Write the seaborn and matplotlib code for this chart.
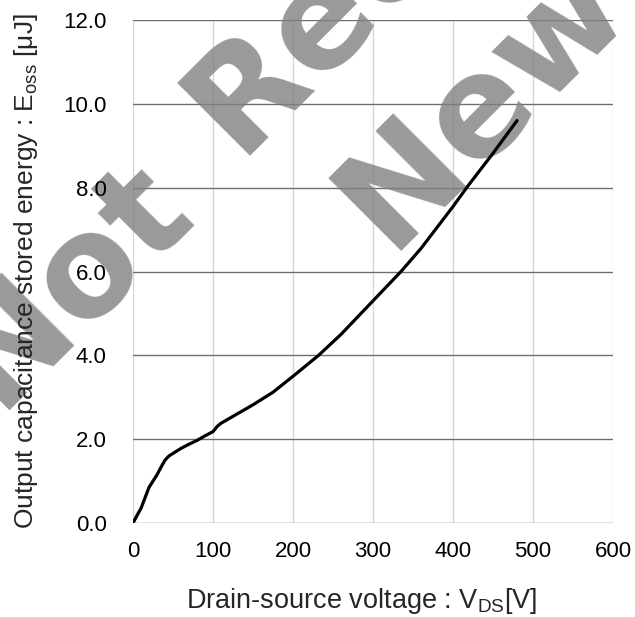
import seaborn as sns
import matplotlib.pyplot as plt
import pandas as pd

# values
vds = [0, 5, 10, 15, 20, 25, 30, 35, 40, 45, 50, 60, 70, 80, 90, 100, 105, 110,
       130, 150, 175, 200, 232, 260, 300, 335, 360, 380, 400, 417, 450, 480]
eoss = [0.0, 0.18, 0.35, 0.6, 0.85, 1.0, 1.15, 1.33, 1.5, 1.6, 1.66, 1.78, 1.88, 1.97,
        2.08, 2.18, 2.3, 2.38, 2.6, 2.82, 3.12, 3.5, 4.0, 4.5, 5.3, 6.0, 6.55, 7.05,
        7.55, 8.0, 8.82, 9.6]

x_ticks = [0, 100, 200, 300, 400, 500, 600]
y_ticks = [0.0, 2.0, 4.0, 6.0, 8.0, 10.0, 12.0]

df = pd.DataFrame({"VDS": vds, "Eoss": eoss})

sns.set_style("white")
plt.rcParams["font.family"] = ["Liberation Sans", "DejaVu Sans"]
plt.rcParams["mathtext.fontset"] = "custom"
plt.rcParams["mathtext.rm"] = "Liberation Sans"

W, H = 635, 617
fig = plt.figure(figsize=(W / 100, H / 100), dpi=100)
ax = fig.add_axes([133 / W, 1 - 523 / H, 480 / W, 503 / H])

for y in y_ticks:
    ax.axhline(y, color="#6e6e6e", lw=1.0, zorder=0.5)
for x in x_ticks:
    ax.axvline(x, color="#d6d6d6", lw=1.0, zorder=0.4)

sns.lineplot(data=df, x="VDS", y="Eoss", ax=ax, color="black", lw=2.3, sort=False, zorder=2)

ax.set_axisbelow(False)
ax.set_xlim(0, 600)
ax.set_ylim(0, 12)
ax.set_xticks(x_ticks)
ax.set_xticklabels([str(v) for v in x_ticks])
ax.set_yticks(y_ticks)
ax.set_yticklabels([f"{v:.1f}" for v in y_ticks])
ax.tick_params(axis="both", length=0, labelsize=16, colors="black")
ax.tick_params(axis="y", pad=19)
ax.tick_params(axis="x", pad=13)
for s in ax.spines.values():
    s.set_visible(False)

ax.set_xlabel(r"Drain-source voltage : V$_{\mathrm{DS}}$[V]", fontsize=19.5)
ax.xaxis.set_label_coords(0.477, -0.125)
ax.set_ylabel("Output capacitance stored energy : E$_{\\mathrm{oss}}$ [\u03bcJ]",
              fontsize=19, labelpad=17)

# watermark, placed by pixel position of each word's baseline
wm = dict(transform=fig.transFigure, rotation=45, rotation_mode="anchor",
          va="baseline", fontsize=101, fontweight="bold", color="#808080",
          family="DejaVu Sans", alpha=0.8, clip_on=False, zorder=1)
ax.text(195 / W, 1 - 212 / H, "Not", ha="right", **wm)
ax.text(242 / W, 1 - 165 / H, "Recommended for", ha="left", **wm)
ax.text(393 / W, 1 - 260 / H, "New Design", ha="left", **wm)

fig.savefig("out.png", dpi=100)
